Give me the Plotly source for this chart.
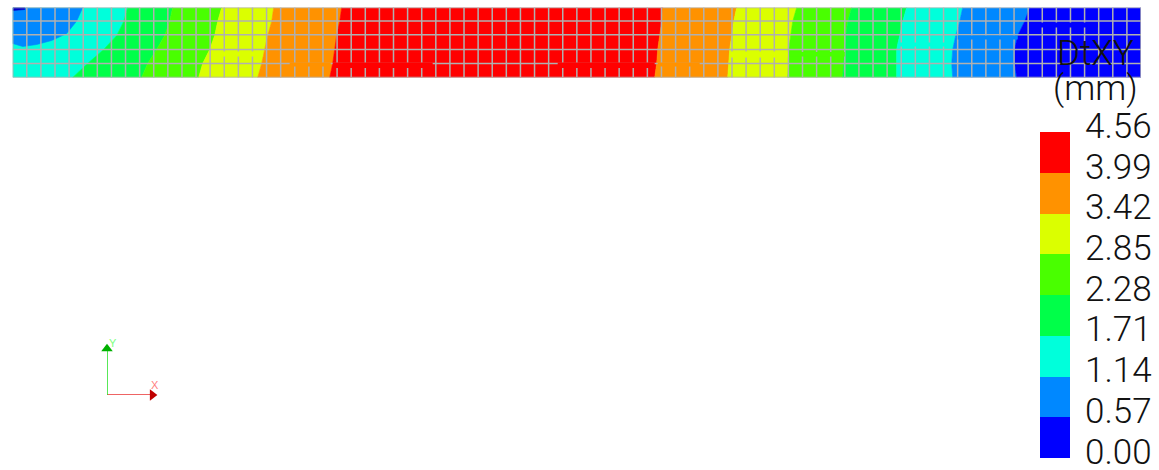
import plotly.graph_objects as go

# Contour levels and colours (DtXY, mm)
levels = [0.00, 0.57, 1.14, 1.71, 2.28, 2.85, 3.42, 3.99, 4.56]
tick_labels = ["0.00", "0.57", "1.14", "1.71", "2.28", "2.85", "3.42", "3.99", "4.56"]
band_colors = ["#0000ff", "#0088ff", "#00ffdb", "#00ff49", "#49ff00", "#dbff00", "#ff9200", "#ff0000"]

# Section coordinates: x along the beam, y through the depth (0 top .. 70 bottom)
x_left, x_right = 0.0, 1128.3
y_top, y_bottom = 0.0, 70.0
y_levels = [0, 14, 28, 42, 56, 70]

# Iso-lines: x position at each y level
iso_b3 = [115, 111, 104, 91, 75, 60]        # cyan / green (left)
iso_b4 = [160, 157, 152, 144, 135, 129]     # green / lime (left)
iso_b5 = [209, 205, 202, 197, 190, 186]     # lime / yellow (left)
iso_b6 = [261, 259, 255, 252, 249, 245]     # yellow / orange (left)
iso_b7 = [329, 327, 324, 322, 320, 317]     # orange / red (left)
iso_a7 = [650, 649, 647, 645, 644, 642]     # red / orange (right)
iso_a6 = [724, 721, 719, 717, 716, 715]     # orange / yellow (right)
iso_a5 = [784, 780, 778, 776, 776, 775]     # yellow / lime (right)
iso_a4 = [839, 835, 833, 832, 831, 830]     # lime / green (right)
iso_a3 = [894, 890, 887, 884, 884, 884]     # green / cyan (right)
iso_a2 = [950, 947, 943, 940, 939, 940]     # cyan / azure (right)
iso_a1 = [1017, 1012, 1005, 1002, 1002, 1004]  # azure / blue (right)

# Quarter-arc around the top-left corner
arc_x = [70, 64, 54, 39, 24, 10, 0]
arc_y = [0, 13.5, 26, 33, 37, 39, 36]
# Small deepest-blue patch at the corner
patch_x = [0, 12, 12, 0]
patch_y = [0, 0, 2, 3]

# Element mesh lines
mesh_columns = 80
mesh_y = [0, 13.6, 27.3, 42, 56, 70]

# Jagged contour fragments lying over the mesh: band index, x0, x1, y0, y1
fragments = [
    (7, 320, 420, 55, 60.5), (7, 545, 642, 55, 60.5),
    (6, 277, 318, 55, 59), (6, 645, 687, 55, 59),
    (5, 200, 250, 44, 49), (5, 717, 775, 44, 50),
    (4, 777, 832, 44.5, 49),
    (0, 1020, 1085, 15, 20), (1, 945, 1005, 28, 32), (2, 885, 940, 35, 39),
]

W, H = 1159, 470
fig = go.Figure()


def polygon(xs, ys, color):
    fig.add_trace(go.Scatter(x=xs, y=ys, mode="lines", fill="toself", fillcolor=color,
                             line=dict(color=color, width=0.6), hoverinfo="skip", showlegend=False))


def band(left, right, color):
    polygon(list(left) + list(reversed(right)), y_levels + list(reversed(y_levels)), color)


edge_l = [x_left] * 6
edge_r = [x_right] * 6
chain = [edge_l, iso_b3, iso_b4, iso_b5, iso_b6, iso_b7, iso_a7, iso_a6, iso_a5, iso_a4, iso_a3, iso_a2, iso_a1, edge_r]
chain_colors = [2, 3, 4, 5, 6, 7, 6, 5, 4, 3, 2, 1, 0]
for k, idx in enumerate(chain_colors):
    band(chain[k], chain[k + 1], band_colors[idx])
polygon(arc_x + [0], arc_y + [0], band_colors[1])
polygon(patch_x, patch_y, "#0000c8")

# Element mesh
dx = (x_right - x_left) / mesh_columns
mx, my = [], []
for i in range(mesh_columns + 1):
    mx += [x_left + i * dx, x_left + i * dx, None]
    my += [y_top, y_bottom, None]
for yy in mesh_y:
    mx += [x_left, x_right, None]
    my += [yy, yy, None]
fig.add_trace(go.Scatter(x=mx, y=my, mode="lines", line=dict(color="#b0b0b0", width=1.5),
                         hoverinfo="skip", showlegend=False, cliponaxis=False))

for idx, x0, x1, y0, y1 in fragments:
    fig.add_trace(go.Scatter(x=[x0, x1, x1, x0, x0], y=[y0, y0, y1, y1, y0], mode="lines", fill="toself",
                             fillcolor=band_colors[idx], line=dict(width=0), hoverinfo="skip", showlegend=False))

# Colour bar, from the levels
colorscale = []
for i, c in enumerate(band_colors):
    colorscale += [[i / len(band_colors), c], [(i + 1) / len(band_colors), c]]
fig.add_trace(go.Scatter(
    xaxis="x3", yaxis="y3", x=[0] * len(levels), y=levels, mode="markers", showlegend=False, hoverinfo="skip",
    marker=dict(color=levels, cmin=levels[0], cmax=levels[-1], colorscale=colorscale, opacity=0,
                colorbar=dict(
                    x=1040 / W, xanchor="left", xref="container",
                    y=1 - 457.5 / H, yanchor="bottom", yref="container",
                    lenmode="pixels", len=325.5, thicknessmode="pixels", thickness=30,
                    outlinewidth=0, borderwidth=0, xpad=0, ypad=0, ticks="", showticklabels=False))))

label_font = dict(family="Roboto", size=35, color="#111111", weight=300)
for v, t in zip(levels, tick_labels):
    fig.add_annotation(text=t, xref="x3", yref="y3", x=0, y=v, yshift=5.5, xanchor="left", showarrow=False,
                       font=label_font, xshift=-3)

fig.add_annotation(text="DtXY", xref="paper", yref="paper", x=1095 / W, y=1 - 53.5 / H, xanchor="center",
                   yanchor="middle", showarrow=False, font=label_font)
fig.add_annotation(text="(mm)", xref="paper", yref="paper", x=1095 / W, y=1 - 88 / H, xanchor="center",
                   yanchor="middle", showarrow=False, font=label_font)

# Orientation triad
triad = dict(xaxis="x2", yaxis="y2", hoverinfo="skip", showlegend=False, cliponaxis=False)
fig.add_trace(go.Scatter(x=[0, 0.9], y=[0, 0], mode="lines", line=dict(color="#e83030", width=1.5), **triad))
fig.add_trace(go.Scatter(x=[0, 0], y=[0, 0.9], mode="lines", line=dict(color="#20e020", width=1.5), **triad))
fig.add_trace(go.Scatter(x=[0.89], y=[0], mode="markers", marker=dict(symbol="triangle-right", size=10, color="#c00000"), **triad))
fig.add_trace(go.Scatter(x=[0], y=[0.875], mode="markers", marker=dict(symbol="triangle-up", size=10, color="#00b000"), **triad))
fig.add_annotation(text="X", xref="x2", yref="y2", x=0.94, y=0.19, showarrow=False,
                   font=dict(family="Liberation Sans", size=11, color="#ff8080"))
fig.add_annotation(text="Y", xref="x2", yref="y2", x=0.12, y=0.98, showarrow=False,
                   font=dict(family="Liberation Sans", size=11, color="#80ff80"))

fig.update_layout(
    width=W, height=H, margin=dict(l=0, r=0, t=0, b=0, autoexpand=False), plot_bgcolor="white", paper_bgcolor="white",
    xaxis=dict(domain=[12.7 / W, 1141 / W], range=[x_left, x_right], visible=False),
    yaxis=dict(domain=[1 - 77.5 / H, 1 - 7.5 / H], range=[y_bottom, y_top], visible=False),
    xaxis2=dict(domain=[107 / W, 158 / W], range=[0, 1], visible=False, anchor="y2"),
    yaxis2=dict(domain=[1 - 395 / H, 1 - 342 / H], range=[0, 1], visible=False, anchor="x2"),
    xaxis3=dict(domain=[1086 / W, 1155 / W], range=[0, 1], visible=False, anchor="y3"),
    yaxis3=dict(domain=[1 - 457.5 / H, 1 - 132 / H], range=[levels[0], levels[-1]], visible=False, anchor="x3"),
)

fig.write_html("out.html", config=dict(displayModeBar=False),
               post_script="document.body.style.margin='0';document.documentElement.style.overflow='hidden';")
